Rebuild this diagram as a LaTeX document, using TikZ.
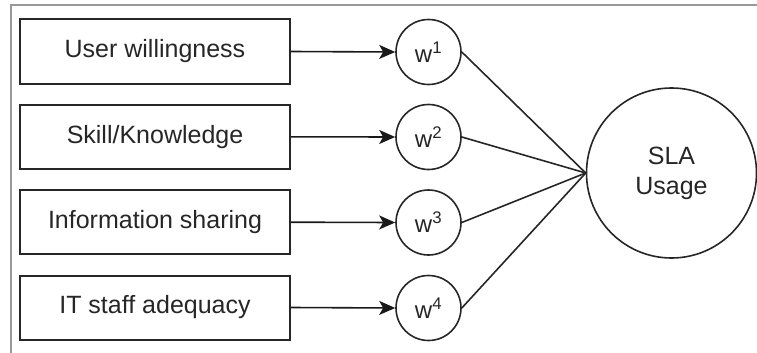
\documentclass[tikz,border=0pt]{standalone}
\usepackage{fontspec}
\setmainfont{Liberation Sans}
\usetikzlibrary{arrows.meta}
\begin{document}
\begin{tikzpicture}[x=1pt,y=-1pt,
  factor/.style={draw=black!85, line width=2pt, minimum width=270pt, minimum height=64pt,
    inner sep=0pt, font=\fontsize{25}{30}\selectfont, text=black!85},
  weight/.style={circle, draw=black!85, line width=1.6pt, minimum size=65pt, inner sep=0pt,
    font=\fontsize{24}{28}\selectfont, text=black!85},
  outcome/.style={circle, draw=black!85, line width=1.6pt, minimum size=170pt, inner sep=0pt,
    font=\fontsize{25}{30}\selectfont, text=black!85, align=center},
  feed/.style={line width=1.6pt, draw=black!90, -{Stealth[length=16pt,width=14pt,inset=4pt]}},
  link/.style={line width=1.6pt, draw=black!85},
  frame/.style={draw=black!40, line width=2pt}]
\useasboundingbox (0,0) rectangle (757,353);
% outer frame edges
\coordinate (ftl) at (11,5);
\coordinate (ftr) at (757,5);
\coordinate (fbl) at (11,353);
\draw[frame] (fbl) -- (ftl) -- (ftr);
% input factors
\node[factor] (f1) at (155,51.5) {User willingness};
\node[factor] (f2) at (155,136.8) {Skill/Knowledge};
\node[factor] (f3) at (155,222.2) {Information sharing};
\node[factor] (f4) at (155,307.5) {IT staff adequacy};
% weights
\node[weight] (w1) at (428.5,52) {w\textsuperscript{1}};
\node[weight] (w2) at (428.5,137) {w\textsuperscript{2}};
\node[weight] (w3) at (428.5,222.5) {w\textsuperscript{3}};
\node[weight] (w4) at (428.5,308) {w\textsuperscript{4}};
% outcome
\node[outcome] (sla) at (671.5,173) {SLA\\Usage};
% connectors
\foreach \i in {1,...,4}{
  \draw[feed] (f\i.east) -- (w\i.west);
  \draw[link] (w\i.east) -- (sla.west);
}
\end{tikzpicture}
\end{document}
